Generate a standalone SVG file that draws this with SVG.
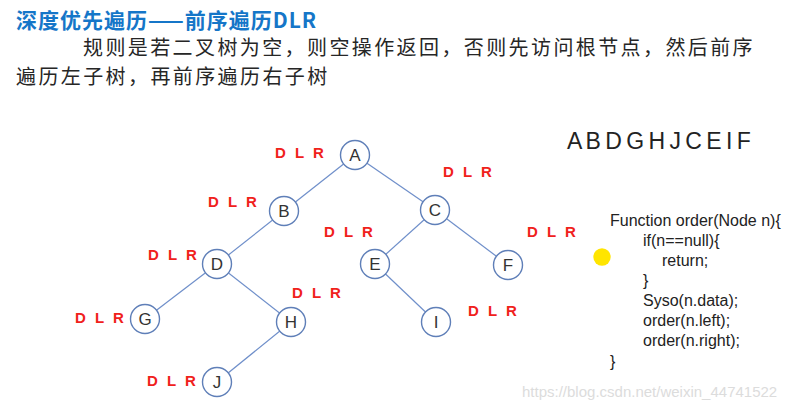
<svg xmlns="http://www.w3.org/2000/svg" width="802" height="410" viewBox="0 0 802 410">
<style>
.title{font-family:"Noto Sans CJK SC","Noto Sans",sans-serif;font-size:21px;font-weight:bold;fill:#1576c8;letter-spacing:1px}
.body{font-family:"Noto Sans CJK SC","Noto Sans",sans-serif;font-size:20px;fill:#262626;letter-spacing:2.4px}
.dlr{font-family:"Liberation Sans",Arial,sans-serif;font-size:15px;font-weight:bold;fill:#f0211b;word-spacing:5px}
.node circle{fill:#ffffff;stroke:#5f7fb8;stroke-width:1.4}
.node text{font-family:"Liberation Sans",Arial,sans-serif;font-size:17px;fill:#333333;text-anchor:middle}
.edge{stroke:#6f8fca;stroke-width:1.2}
.code{font-family:"Liberation Sans",Arial,sans-serif;font-size:16px;fill:#222222}
.seq{font-family:"Liberation Sans",Arial,sans-serif;font-size:23px;fill:#222222;word-spacing:-2px}
.wm{font-family:"Liberation Sans",Arial,sans-serif;font-size:15px;fill:#dcdcdc}
</style>
<rect width="802" height="410" fill="#ffffff"/>
<text class="title" x="16" y="28">深度优先遍历——前序遍历DLR</text>
<text class="body" x="83" y="55">规则是若二叉树为空，则空操作返回，否则先访问根节点，然后前序</text>
<text class="body" x="16" y="84">遍历左子树，再前序遍历右子树</text>

<g id="connectors">
<line class="edge" x1="355" y1="155" x2="284" y2="211"/>
<line class="edge" x1="355" y1="155" x2="435" y2="210"/>
<line class="edge" x1="284" y1="211" x2="217" y2="264"/>
<line class="edge" x1="435" y1="210" x2="375" y2="264"/>
<line class="edge" x1="435" y1="210" x2="508" y2="265"/>
<line class="edge" x1="217" y1="264" x2="145" y2="319"/>
<line class="edge" x1="217" y1="264" x2="291" y2="322"/>
<line class="edge" x1="375" y1="264" x2="436" y2="322"/>
<line class="edge" x1="291" y1="322" x2="217" y2="382"/>
</g>

<g id="node-A" class="node"><circle cx="355" cy="155" r="14.5"/><text x="355" y="161">A</text></g>
<g id="node-B" class="node"><circle cx="284" cy="211" r="14.5"/><text x="284" y="217">B</text></g>
<g id="node-C" class="node"><circle cx="435" cy="210" r="14.5"/><text x="435" y="216">C</text></g>
<g id="node-D" class="node"><circle cx="217" cy="264" r="14.5"/><text x="217" y="270">D</text></g>
<g id="node-E" class="node"><circle cx="375" cy="264" r="14.5"/><text x="375" y="270">E</text></g>
<g id="node-F" class="node"><circle cx="508" cy="265" r="14.5"/><text x="508" y="271">F</text></g>
<g id="node-G" class="node"><circle cx="145" cy="319" r="14.5"/><text x="145" y="325">G</text></g>
<g id="node-H" class="node"><circle cx="291" cy="322" r="14.5"/><text x="291" y="328">H</text></g>
<g id="node-I" class="node"><circle cx="436" cy="322" r="14.5"/><text x="436" y="328">I</text></g>
<g id="node-J" class="node"><circle cx="217" cy="382" r="14.5"/><text x="217" y="388">J</text></g>

<g id="dlr-labels">
<text class="dlr" x="275" y="158">D L R</text>
<text class="dlr" x="443" y="177">D L R</text>
<text class="dlr" x="208" y="207">D L R</text>
<text class="dlr" x="324" y="237">D L R</text>
<text class="dlr" x="527" y="237">D L R</text>
<text class="dlr" x="148" y="260">D L R</text>
<text class="dlr" x="292" y="298">D L R</text>
<text class="dlr" x="75" y="323">D L R</text>
<text class="dlr" x="468" y="316">D L R</text>
<text class="dlr" x="147" y="386">D L R</text>
</g>

<text class="seq" x="567" y="149">A B D G H J C E I F</text>

<g id="code">
<text class="code" x="610" y="226">Function order(Node n){</text>
<text class="code" x="643" y="246">if(n==null){</text>
<text class="code" x="662" y="266">return;</text>
<text class="code" x="643" y="286">}</text>
<text class="code" x="643" y="306">Syso(n.data);</text>
<text class="code" x="643" y="326">order(n.left);</text>
<text class="code" x="643" y="346">order(n.right);</text>
<text class="code" x="610" y="367">}</text>
</g>

<circle cx="602" cy="257" r="8.7" fill="#ffe500"/>

<text class="wm" x="522" y="397">https://blog.csdn.net/weixin_44741522</text>
</svg>
